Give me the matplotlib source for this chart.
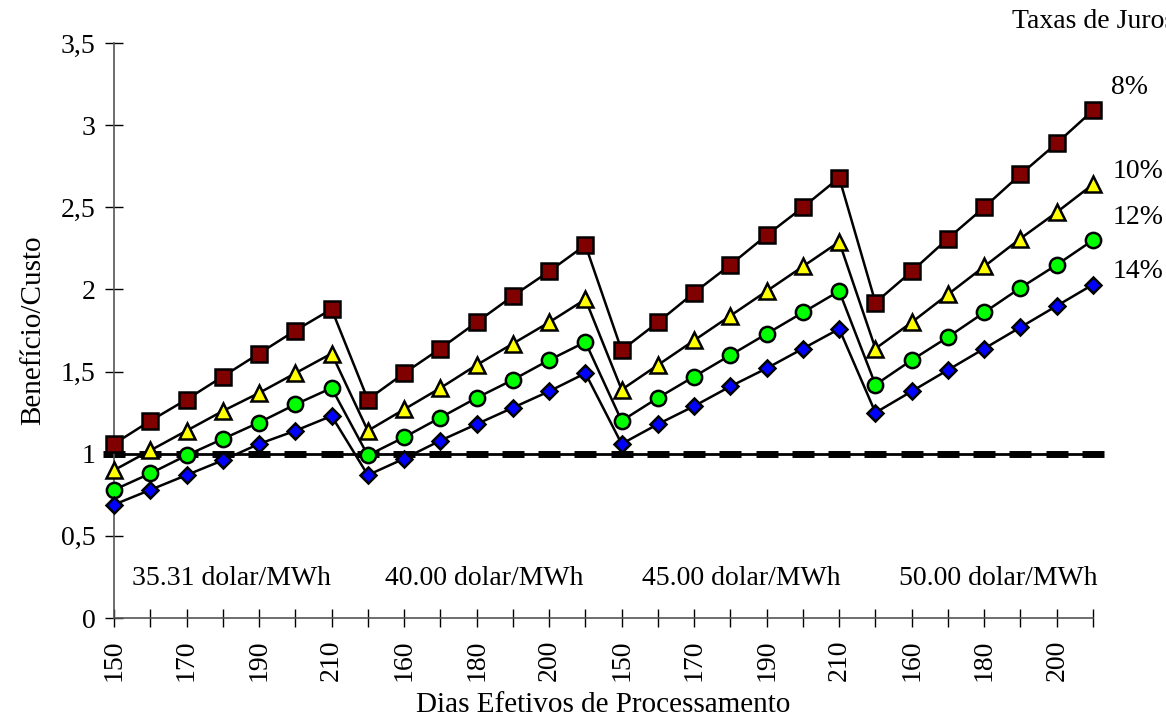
import matplotlib
matplotlib.use("Agg")
import matplotlib.pyplot as plt

# dias efetivos de processamento, 4 faixas de preco
dias = [150, 160, 170, 180, 190, 200, 210] * 4
precos = ["35.31 dolar/MWh", "40.00 dolar/MWh", "45.00 dolar/MWh", "50.00 dolar/MWh"]

bc_8 = [1.06, 1.20, 1.33, 1.47, 1.61, 1.75, 1.88,
        1.33, 1.49, 1.64, 1.80, 1.96, 2.11, 2.27,
        1.63, 1.80, 1.98, 2.15, 2.33, 2.50, 2.68,
        1.92, 2.11, 2.31, 2.50, 2.70, 2.89, 3.09]
bc_10 = [0.90, 1.02, 1.14, 1.26, 1.37, 1.49, 1.61,
         1.14, 1.27, 1.40, 1.54, 1.67, 1.80, 1.94,
         1.39, 1.54, 1.69, 1.84, 1.99, 2.14, 2.29,
         1.64, 1.80, 1.97, 2.14, 2.31, 2.47, 2.64]
bc_12 = [0.78, 0.88, 0.99, 1.09, 1.19, 1.30, 1.40,
         0.99, 1.10, 1.22, 1.34, 1.45, 1.57, 1.68,
         1.20, 1.34, 1.47, 1.60, 1.73, 1.86, 1.99,
         1.42, 1.57, 1.71, 1.86, 2.01, 2.15, 2.30]
bc_14 = [0.69, 0.78, 0.87, 0.96, 1.06, 1.14, 1.23,
         0.87, 0.97, 1.08, 1.18, 1.28, 1.38, 1.49,
         1.06, 1.18, 1.29, 1.41, 1.52, 1.64, 1.76,
         1.25, 1.38, 1.51, 1.64, 1.77, 1.90, 2.03]
limite = [1.0] * 28

taxas = ["8%", "10%", "12%", "14%"]
ytick_vals = [0, 0.5, 1, 1.5, 2, 2.5, 3, 3.5]
ytick_txt = ["0", "0,5", "1", "1,5", "2", "2,5", "3", "3,5"]

plt.rcParams['font.family'] = ['Liberation Serif', 'DejaVu Serif']
plt.rcParams['font.size'] = 20

fig = plt.figure(figsize=(11.66, 7.23), dpi=100)
ax = fig.add_axes([0.0978, 0.1452, 0.8396, 0.7953])

x = list(range(len(dias)))

ax.plot(x, limite, color='black', lw=2, marker='_', ms=16, mew=5, zorder=2, clip_on=False)

series = [(bc_8, 's', '#800000', 11), (bc_10, '^', '#FFFF00', 11),
          (bc_12, 'o', '#00FF00', 11), (bc_14, 'D', '#0000FF', 8)]
for vals, mk, cor, ms in series:
    ax.plot(x, vals, color='black', lw=1.8, marker=mk, ms=ms, mfc=cor,
            mec='black', mew=1.8, zorder=3, clip_on=False)

ax.set_xlim(0, 27)
ax.set_ylim(0, 3.5)
ax.set_xticks(x)
ax.set_xticklabels([str(d) if i % 2 == 0 else "" for i, d in enumerate(dias)], rotation=90)
ax.set_yticks(ytick_vals)
ax.set_yticklabels(ytick_txt)
ax.tick_params(direction='inout', length=13, width=1, color='black')
ax.tick_params(axis='x', pad=9)
ax.tick_params(axis='y', pad=7)

for s in ['top', 'right']:
    ax.spines[s].set_visible(False)
for s in ['left', 'bottom']:
    ax.spines[s].set_color('#555555')
    ax.spines[s].set_linewidth(1.2)

ax.set_xlabel("Dias Efetivos de Processamento", fontsize=21, labelpad=8)
ax.set_ylabel("Benefício/Custo", fontsize=21, labelpad=10)

# faixas de preco
pos_precos = [3.25, 10.2, 17.3, 24.4]
for px, txt in zip(pos_precos, precos):
    ax.text(px, 0.24, txt, ha='center', va='center')

# rotulos das taxas (o titulo sai cortado na borda, como no original)
fig.text(1012 / 1166, 1 - 22 / 723, "Taxas de Juros", ha='left', va='center')
ypos = [88, 172, 218, 272]
xpos = [1111, 1113, 1113, 1113]
for t, xp, yp in zip(taxas, xpos, ypos):
    fig.text(xp / 1166, 1 - yp / 723, t, ha='left', va='center')

fig.savefig("out.png", dpi=100)
